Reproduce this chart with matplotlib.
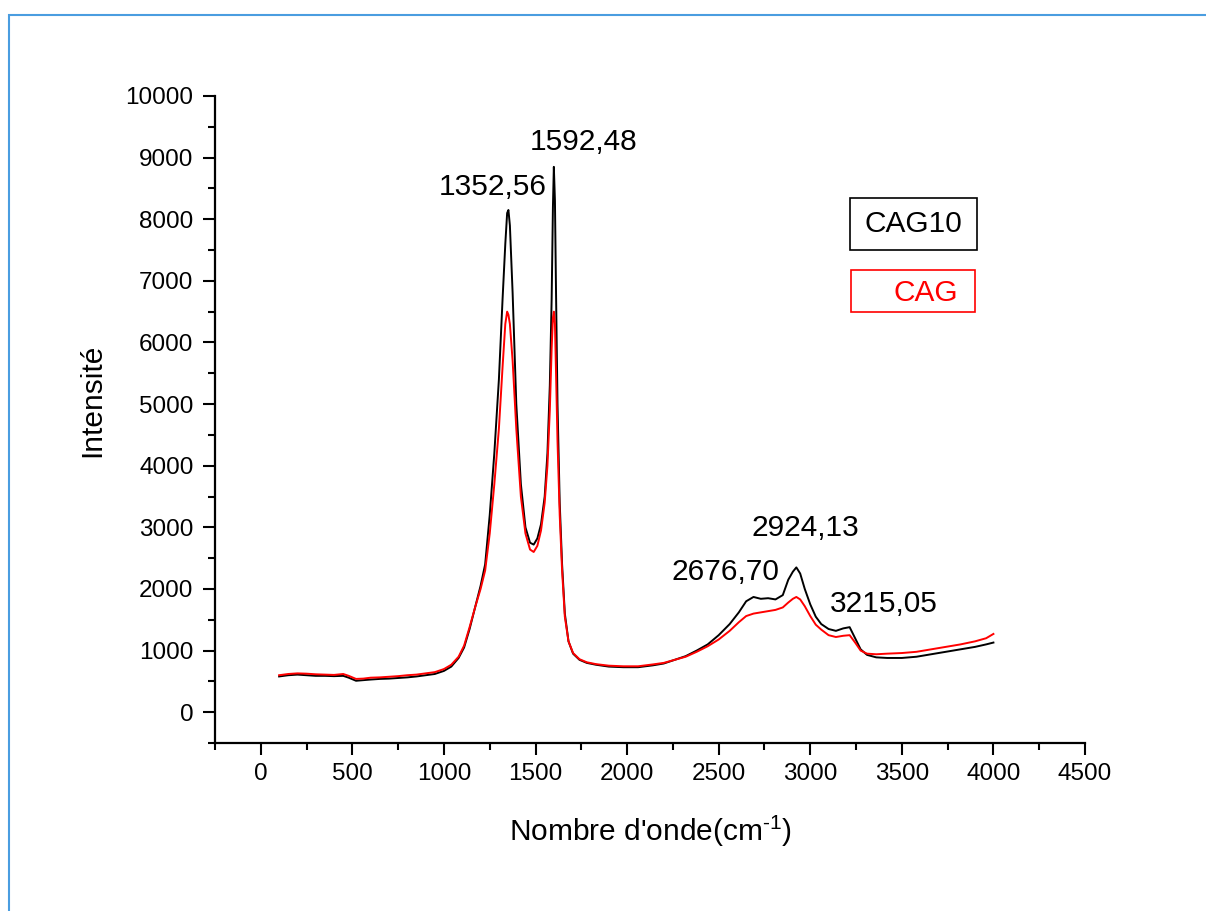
import matplotlib
matplotlib.use("Agg")
import matplotlib.pyplot as plt
from matplotlib.patches import Rectangle
from matplotlib.ticker import MultipleLocator

plt.rcParams['font.family'] = ['Liberation Sans', 'DejaVu Sans']
plt.rcParams['mathtext.fontset'] = 'custom'
plt.rcParams['mathtext.rm'] = 'Liberation Sans'

# ---- data ----
wavenumber = [100, 150, 200, 250, 300, 350, 400, 450, 480, 520, 560, 600, 650, 700, 750,
              800, 850, 900, 950, 1000, 1040, 1080, 1110, 1140, 1170, 1200, 1225, 1250,
              1275, 1300, 1320, 1335, 1345, 1352, 1360, 1375, 1395, 1420, 1445, 1470,
              1490, 1510, 1530, 1550, 1565, 1578, 1588, 1595, 1600, 1606, 1612, 1620,
              1632, 1645, 1660, 1680, 1705, 1740, 1780, 1830, 1900, 1980, 2060, 2140,
              2200, 2260, 2320, 2380, 2440, 2500, 2560, 2610, 2650, 2690, 2730, 2770,
              2810, 2850, 2880, 2905, 2924, 2945, 2970, 3000, 3030, 3060, 3100, 3140,
              3180, 3215, 3245, 3275, 3310, 3360, 3420, 3500, 3580, 3660, 3740, 3820,
              3900, 3960, 4000]

cag10 = [580, 600, 610, 600, 590, 590, 585, 590, 560, 510, 520, 530, 540, 545, 555,
         565, 580, 600, 620, 670, 740, 880, 1050, 1350, 1700, 2050, 2400, 3200,
         4200, 5400, 6700, 7600, 8100, 8150, 7900, 6800, 5000, 3700, 3000, 2750,
         2720, 2820, 3050, 3500, 4200, 5300, 6700, 8200, 8850, 8300, 6800, 5000,
         3400, 2400, 1600, 1150, 950, 850, 800, 770, 740, 730, 730, 760,
         790, 850, 910, 1000, 1100, 1250, 1430, 1620, 1800, 1870, 1840, 1850,
         1830, 1900, 2150, 2280, 2350, 2250, 2000, 1750, 1550, 1430, 1350, 1320,
         1360, 1380, 1200, 1020, 930, 890, 880, 880, 900, 940, 980, 1020,
         1060, 1100, 1130]

cag = [600, 620, 630, 625, 615, 610, 605, 620, 590, 540, 545, 560, 565, 575, 585,
       600, 610, 630, 650, 700, 770, 900, 1080, 1380, 1700, 2000, 2300, 2900,
       3700, 4600, 5600, 6300, 6500, 6450, 6300, 5700, 4600, 3500, 2900, 2640,
       2600, 2700, 2950, 3400, 4000, 4900, 5900, 6400, 6500, 6300, 5500, 4400,
       3200, 2300, 1550, 1150, 960, 860, 810, 780, 755, 745, 745, 775,
       800, 850, 900, 980, 1070, 1180, 1320, 1460, 1560, 1600, 1620, 1640,
       1660, 1700, 1780, 1840, 1870, 1830, 1720, 1560, 1420, 1340, 1250, 1220,
       1240, 1250, 1130, 1000, 950, 940, 950, 960, 980, 1020, 1060, 1100,
       1150, 1200, 1270]

peak_labels = ["1352,56", "1592,48", "2676,70", "2924,13", "3215,05"]
peak_label_x = [1268, 1760, 2536, 2973, 3399]
peak_label_y = [8520, 9250, 2270, 2990, 1755]

series_names = ["CAG10", "CAG"]
series_colors = ["black", "red"]

# ---- figure ----
fig = plt.figure(figsize=(12.06, 9.11), dpi=100)
ax = fig.add_axes([215 / 1206, 1 - 743 / 911, (1085 - 215) / 1206, (743 - 96) / 911])

ax.plot(wavenumber, cag10, color=series_colors[0], lw=1.4)
ax.plot(wavenumber, cag, color=series_colors[1], lw=1.4)

ax.set_xlim(-250, 4500)
ax.set_ylim(-500, 10000)
ax.xaxis.set_minor_locator(MultipleLocator(250))
ax.yaxis.set_minor_locator(MultipleLocator(500))
ax.set_xticks([t for t in range(0, 4501, 500)])
ax.set_yticks([t for t in range(0, 10001, 1000)])

for s in ['top', 'right']:
    ax.spines[s].set_visible(False)
for s in ['left', 'bottom']:
    ax.spines[s].set_linewidth(1.6)

ax.tick_params(axis='both', which='major', direction='out', length=8.5, width=1.5,
               labelsize=17.5)
ax.tick_params(axis='both', which='minor', direction='out', length=5, width=1.5)
ax.tick_params(axis='y', which='major', pad=7)
ax.tick_params(axis='x', which='major', pad=6)

ax.set_xlabel(r"Nombre d'onde(cm$^{\text{-1}}$)", fontsize=21.5)
ax.set_ylabel("Intensité", fontsize=21.5)
ax.xaxis.set_label_coords(0.5, -0.108)
ax.yaxis.set_label_coords(-0.125, 0.53)

for lab, lx, ly in zip(peak_labels, peak_label_x, peak_label_y):
    ax.text(lx, ly, lab, fontsize=21.5, ha='center', va='center', color='black')

# legend-like text boxes
W, H = 1206, 911
fig.patches.append(Rectangle((850 / W, 1 - 250 / H), 127 / W, 52 / H, transform=fig.transFigure,
                             fill=False, edgecolor='black', lw=1.2))
fig.text(913 / W, 1 - 224 / H, series_names[0], fontsize=21.5, color=series_colors[0],
         ha='center', va='center')
fig.patches.append(Rectangle((851 / W, 1 - 312 / H), 124 / W, 42 / H, transform=fig.transFigure,
                             fill=False, edgecolor='red', lw=1.2))
fig.text(926 / W, 1 - 293 / H, series_names[1], fontsize=21.5, color=series_colors[1],
         ha='center', va='center')

# outer blue frame (extends beyond right/bottom edges)
fig.patches.append(Rectangle((8.5 / W, -0.1), 1.2, 1 - 14.5 / H + 0.1, transform=fig.transFigure,
                             fill=False, edgecolor='#4a9de0', lw=1.5, clip_on=False))

fig.savefig("out.png", dpi=100)
